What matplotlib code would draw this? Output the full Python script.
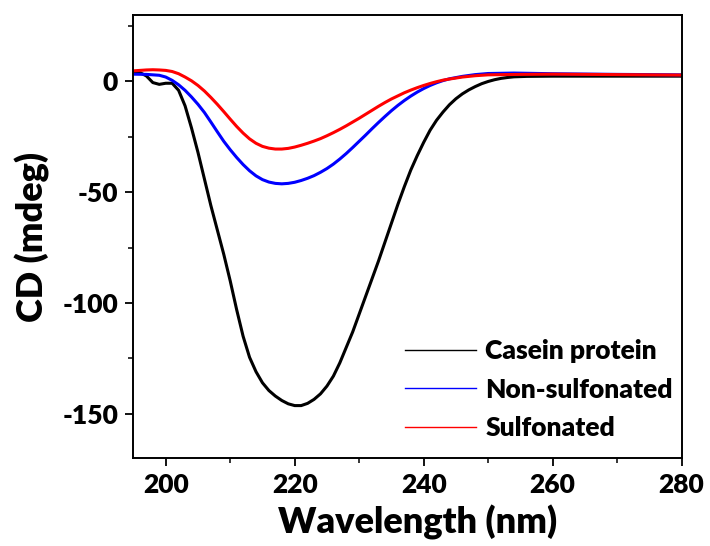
import matplotlib
matplotlib.use("Agg")
import matplotlib.pyplot as plt
from matplotlib.lines import Line2D
from matplotlib.ticker import MultipleLocator
import numpy as np

plt.rcParams['font.family'] = ['Lato', 'DejaVu Sans']
plt.rcParams['font.weight'] = 'heavy'
plt.rcParams['axes.unicode_minus'] = False

# Casein protein
casein_x = [195, 196, 197, 198, 199, 200, 201, 202, 203, 204, 205, 206, 207, 208, 209,
            210, 211, 212, 213, 214, 215, 216, 217, 218, 219, 220, 221, 222, 223, 224,
            225, 226, 227, 228, 229, 230, 231, 232, 233, 234, 235, 236, 237, 238, 239,
            240, 241, 242, 243, 244, 245, 246, 247, 248, 249, 250, 251, 252, 253, 254,
            256, 260, 265, 270, 275, 280]
casein_y = [4.5, 4.0, 2.5, -0.5, -1.3, -0.8, -0.8, -4, -11, -21, -32, -44, -56, -67, -78,
            -90, -103, -115, -124.5, -131, -136, -139.5, -142, -144, -145.5, -146.3, -146.3, -145.3, -143.5, -141,
            -137.5, -133, -127, -120, -113, -105, -97, -89, -81, -72.5, -64, -55.5, -47.5, -40, -33.5,
            -27.5, -22, -17.5, -13.8, -10.5, -7.8, -5.6, -3.8, -2.3, -1.0, 0.0, 0.8, 1.4, 1.8, 2.1,
            2.3, 2.4, 2.4, 2.4, 2.4, 2.4]

# Non-sulfonated
nonsulf_x = [195, 197, 199, 200, 201, 202, 203, 204, 205, 206, 207, 208, 209, 210, 211,
             212, 213, 214, 215, 216, 217, 218, 219, 220, 221, 222, 223, 224, 225, 226,
             227, 228, 229, 230, 231, 232, 233, 234, 235, 236, 237, 238, 239, 240, 241,
             242, 243, 244, 246, 248, 250, 254, 260, 270, 280]
nonsulf_y = [3.3, 3.2, 2.8, 2.0, 0.5, -1.5, -4, -7, -10.3, -14, -18.3, -22.7, -27, -30.8, -34.3,
             -37.5, -40.3, -42.6, -44.3, -45.4, -46, -46.2, -46, -45.5, -44.7, -43.7, -42.5, -41, -39.3, -37.3,
             -35, -32.5, -29.8, -27, -24.2, -21.3, -18.5, -15.8, -13.2, -10.8, -8.6, -6.6, -4.8, -3.2, -1.8,
             -0.6, 0.4, 1.2, 2.3, 3.1, 3.6, 3.8, 3.5, 3.2, 3.0]

# Sulfonated
sulf_x = [195, 196, 197, 198, 199, 200, 201, 202, 203, 204, 205, 206, 207, 208, 209,
          210, 211, 212, 213, 214, 215, 216, 217, 218, 219, 220, 221, 222, 223, 224,
          225, 226, 227, 228, 229, 230, 231, 232, 233, 234, 235, 236, 237, 238, 239,
          240, 241, 242, 243, 244, 246, 248, 250, 255, 260, 270, 280]
sulf_y = [4.8, 5.0, 5.2, 5.3, 5.2, 5.0, 4.5, 3.5, 2.0, 0.3, -1.8, -4.3, -7.2, -10.3, -13.6,
          -17, -20.3, -23.3, -25.9, -27.9, -29.3, -30.1, -30.5, -30.5, -30.2, -29.6, -28.8, -27.9, -26.9, -25.8,
          -24.5, -23.1, -21.6, -20.0, -18.3, -16.6, -14.8, -13.0, -11.2, -9.5, -7.9, -6.5, -5.1, -3.9, -2.8,
          -1.8, -0.9, -0.1, 0.6, 1.1, 2.0, 2.6, 3.0, 3.2, 3.3, 3.1, 2.9]

labels = ["Casein protein", "Non-sulfonated", "Sulfonated"]
colors = ["black", "#0000ff", "#ff0000"]

fig = plt.figure(figsize=(7.1, 5.46), dpi=100)
ax = fig.add_axes([0.188, 0.161, 0.772, 0.8115])

for xs, ys, c in [(casein_x, casein_y, colors[0]), (nonsulf_x, nonsulf_y, colors[1]),
                  (sulf_x, sulf_y, colors[2])]:
    ax.plot(xs, ys, color=c, lw=2.2, solid_joinstyle='round')

ax.set_xlim(195, 280)
ax.set_ylim(-170, 30)
ax.xaxis.set_major_locator(MultipleLocator(20))
ax.xaxis.set_minor_locator(MultipleLocator(10))
ax.yaxis.set_major_locator(MultipleLocator(50))
ax.yaxis.set_minor_locator(MultipleLocator(25))
ax.tick_params(which='major', direction='out', length=6, width=1.3, labelsize=19, pad=5)
ax.tick_params(which='minor', direction='out', length=3.5, width=1.1)
ax.tick_params(top=False, right=False, which='both')
for s in ax.spines.values():
    s.set_linewidth(1.4)
for lab in ax.get_xticklabels() + ax.get_yticklabels():
    lab.set_fontweight('heavy')

ax.set_xlabel("Wavelength (nm)", fontsize=26, fontweight='heavy')
ax.xaxis.set_label_coords(0.519, -0.105)
ax.set_ylabel("CD (mdeg)", fontsize=26, fontweight='heavy', labelpad=9)

handles = [Line2D([0], [0], color=c, lw=1.0) for c in colors]
leg = ax.legend(handles, labels, loc='lower right', bbox_to_anchor=(1.027, -0.013),
                frameon=False, handlelength=2.7, handletextpad=0.35,
                labelspacing=0.55, prop={'weight': 'heavy', 'size': 19})

fig.savefig("out.png", dpi=100)
